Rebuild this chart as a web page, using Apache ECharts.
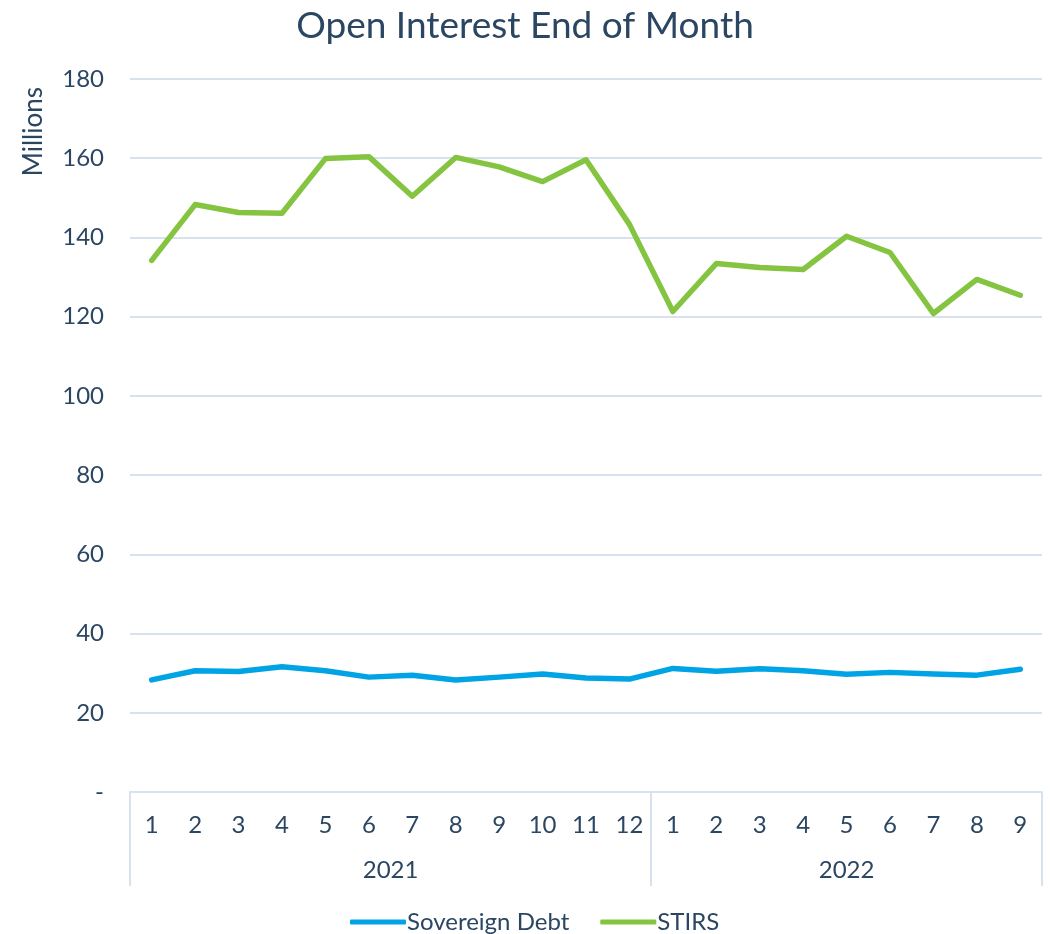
<!DOCTYPE html>
<html>
<head>
<meta charset="utf-8">
<script src="https://cdn.jsdelivr.net/npm/echarts@6/dist/echarts.min.js"></script>
<style>html,body{margin:0;padding:0;background:#fff}#c{width:1050px;height:934px}</style>
</head>
<body>
<div id="c"></div>
<script>
const months = ['1','2','3','4','5','6','7','8','9','10','11','12','1','2','3','4','5','6','7','8','9'];
const years = ['2021','2022'];
const yearSpans = [12, 9];
const sovereignDebt = [28.3,30.6,30.4,31.6,30.6,29.0,29.5,28.3,29.0,29.8,28.8,28.5,31.2,30.5,31.1,30.6,29.7,30.2,29.8,29.5,31.0];
const stirs = [134.2,148.3,146.3,146.1,159.9,160.4,150.4,160.2,157.8,154.1,159.6,143.3,121.3,133.4,132.4,131.9,140.3,136.2,120.8,129.4,125.4];

const txt = '#2b4662';
const font = 'Lato';
const gridCol = '#d8e2ee';

const bounds = [0]; const centers = [];
yearSpans.forEach(s => { const b = bounds[bounds.length-1]; centers.push(b + s/2); bounds.push(b + s); });

const chart = echarts.init(document.getElementById('c'));
chart.setOption({
  backgroundColor: '#fff',
  textStyle: { fontFamily: font, color: txt },
  title: { text: 'Open Interest End of Month', left: 'center', top: 3,
    textStyle: { fontFamily: font, fontSize: 37, fontWeight: 'normal', color: txt } },
  legend: { top: 905, left: 345, itemWidth: 56, itemHeight: 5, itemGap: 31,
    icon: 'roundRect',
    textStyle: { fontFamily: font, fontSize: 24, color: txt, padding: [0,0,0,-4] },
    data: ['Sovereign Debt', 'STIRS'] },
  graphic: [{ type: 'text', left: 21, top: 87, rotation: Math.PI/2,
    style: { text: 'Millions', fontFamily: font, fontSize: 26, fill: txt } }],
  grid: { left: 130, right: 8, top: 79, bottom: 142 },
  xAxis: [
    { type: 'category', data: months, boundaryGap: true, position: 'bottom',
      axisLine: { show: true, lineStyle: { color: gridCol, width: 2 } },
      axisTick: { show: false },
      axisLabel: { fontFamily: font, fontSize: 24, color: txt, margin: 21, interval: 0 } },
    { type: 'value', min: 0, max: months.length, position: 'bottom',
      axisLine: { show: false },
      splitLine: { show: false },
      axisTick: { show: true, customValues: bounds, length: 94, lineStyle: { color: gridCol, width: 2 } },
      axisLabel: { customValues: centers, fontFamily: font, fontSize: 24, color: txt, margin: 66,
        formatter: v => { const i = centers.indexOf(v); return i >= 0 ? years[i] : ''; } } }
  ],
  yAxis: { type: 'value', min: 0, max: 180, interval: 20,
    axisLine: { show: false }, axisTick: { show: false },
    splitLine: { lineStyle: { color: gridCol, width: 2 } },
    axisLabel: { fontFamily: font, fontSize: 24, color: txt, margin: 26,
      formatter: v => v === 0 ? '-' : String(v) } },
  series: [
    { name: 'Sovereign Debt', type: 'line', data: sovereignDebt, xAxisIndex: 0,
      showSymbol: false, symbol: 'none', color: '#00a3e4',
      lineStyle: { width: 5.5, color: '#00a3e4', cap: 'round', join: 'round' } },
    { name: 'STIRS', type: 'line', data: stirs, xAxisIndex: 0,
      showSymbol: false, symbol: 'none', color: '#84c441',
      lineStyle: { width: 5.5, color: '#84c441', cap: 'round', join: 'round' } }
  ],
  animation: false
});
</script>
</body>
</html>
